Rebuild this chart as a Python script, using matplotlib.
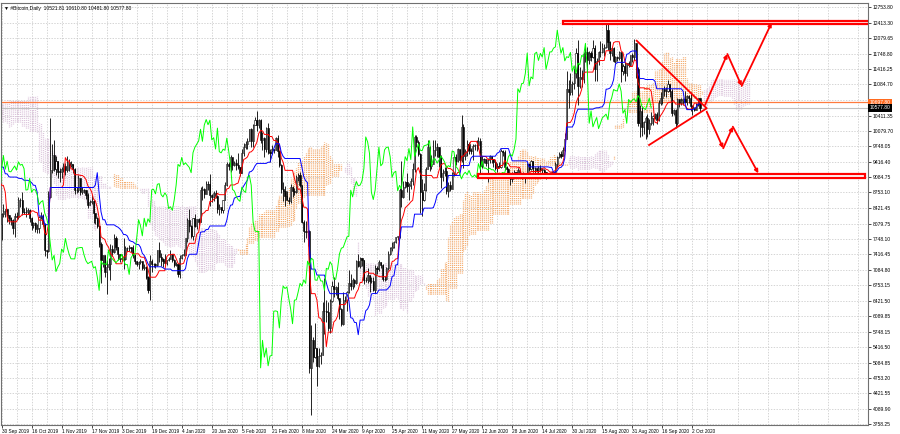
import matplotlib

matplotlib.use("Agg")

import matplotlib.pyplot as plt
import numpy as np
import pandas as pd
from matplotlib.collections import LineCollection
from matplotlib.patches import Rectangle

# daily bars (close, high, low); open = previous close (24/7 market)
# warm-up bars feed the Ichimoku lines at the left edge of the chart
jul19 = [(11810, 11900, 11100), (11392, 11850, 10880), (10256, 11450, 10190), (10895, 11050, 9980),
         (9477, 11000, 9400), (9693, 9950, 9100), (10666, 10740, 9410), (10530, 10750, 10150),
         (10767, 11080, 10380), (10599, 10800, 10200), (10343, 10660, 10080), (9900, 10350, 9800),
         (9811, 9930, 9560), (9911, 10160, 9750), (9871, 9920, 9690), (9477, 10170, 9380),
         (9553, 9590, 9200), (9519, 9700, 9440), (9607, 9720, 9420), (10085, 10110, 9600)]
aug19 = [(10400, 10460, 9920), (10519, 10650, 10340), (10821, 10910, 10500), (10970, 11060, 10560),
         (11805, 11900, 10960), (11478, 12280, 11230), (11941, 12000, 11430), (11966, 11970, 11500),
         (11862, 12050, 11710), (11354, 11930, 11250), (11523, 11560, 11230), (11382, 11560, 11350),
         (10895, 11430, 10770), (10051, 10900, 10000), (10312, 10440, 9840), (10359, 10520, 9880),
         (10231, 10460, 10020), (10345, 10480, 10060), (10916, 10940, 10280), (10764, 10960, 10680),
         (10138, 10780, 9900), (10131, 10230, 9790), (10407, 10440, 10060), (10160, 10420, 9960),
         (10139, 10300, 9950), (10370, 10600, 10120), (10185, 10380, 10080), (9755, 10240, 9630),
         (9510, 9760, 9380), (9598, 9670, 9370), (9630, 9680, 9470)]
sep19 = [(9757, 9800, 9570), (10347, 10420, 9750), (10623, 10770, 10290), (10594, 10630, 10420),
         (10575, 10630, 10480), (10353, 10870, 10280), (10517, 10580, 10350), (10441, 10580, 10320),
         (10334, 10450, 10120), (10115, 10350, 9980), (10178, 10260, 9910), (10410, 10440, 10080),
         (10360, 10440, 10160), (10358, 10390, 10270), (10347, 10380, 10280), (10276, 10370, 10110),
         (10241, 10290, 10170), (10198, 10300, 10160), (10266, 10300, 9670), (10181, 10270, 10100),
         (10019, 10200, 9990), (10070, 10090, 9920), (9729, 10080, 9640), (8620, 9790, 8230),
         (8487, 8730, 8240), (8079, 8500, 7850), (8224, 8290, 7790), (8243, 8330, 8070),
         (8079, 8240, 7910), (8294, 8320, 7730)]
oct19 = [(8343, 8510, 8220), (8393, 8400, 8220), (8260, 8390, 8110), (8205, 8270, 8080),
         (8151, 8220, 8050), (7988, 8180, 7850), (8245, 8310, 7800), (8228, 8330, 8160),
         (8595, 8660, 8170), (8587, 8640, 8450), (8321, 8760, 8260), (8336, 8420, 8280),
         (8321, 8430, 8220), (8374, 8420, 8280), (8205, 8390, 8120), (8047, 8220, 7950),
         (8103, 8120, 7990), (7973, 8120, 7890), (7988, 8080, 7880), (8222, 8250, 7880),
         (8243, 8330, 8180), (8078, 8290, 8040), (7514, 8090, 7380), (7493, 7510, 7350),
         (8660, 8790, 7460), (9244, 10370, 8640), (9551, 9800, 9170), (9256, 9880, 9220),
         (9427, 9530, 9120), (9205, 9430, 9070), (9199, 9280, 8980)]
nov19 = [(9261, 9300, 9070), (9324, 9380, 9200), (9235, 9380, 9140), (9413, 9540, 9200),
         (9342, 9480, 9220), (9360, 9440, 9300), (9267, 9370, 9180), (8805, 9270, 8730),
         (8813, 8880, 8750), (9055, 9120, 8760), (8757, 9060, 8700), (8816, 8870, 8720),
         (8808, 8830, 8740), (8708, 8800, 8620), (8491, 8740, 8420), (8550, 8580, 8480),
         (8577, 8690, 8500), (8310, 8580, 8100), (8206, 8310, 8080), (8027, 8220, 7990),
         (7643, 8060, 7580), (7297, 7690, 6790), (7397, 7400, 7150), (7048, 7400, 6940),
         (7146, 7290, 6570), (7219, 7330, 7080), (7531, 7640, 6870), (7463, 7610, 7380),
         (7761, 7860, 7440), (7569, 7820, 7520)]
dec19 = [(7424, 7570, 7300), (7322, 7430, 7260), (7321, 7420, 7270), (7320, 7760, 7100),
         (7547, 7600, 7300), (7556, 7570, 7490), (7565, 7620, 7500), (7564, 7580, 7470),
         (7400, 7620, 7330), (7278, 7420, 7200), (7217, 7280, 7170), (7243, 7270, 7110),
         (7269, 7310, 7220), (7124, 7280, 7090), (7152, 7200, 7090), (6932, 7170, 6880),
         (6640, 6950, 6580), (7276, 7410, 6440), (7202, 7320, 7040), (7219, 7240, 7140),
         (7191, 7230, 7130), (7511, 7520, 7170), (7355, 7690, 7260), (7322, 7440, 7170),
         (7275, 7350, 7150), (7238, 7430, 7200), (7290, 7300, 7180), (7317, 7370, 7270),
         (7422, 7510, 7310), (7293, 7430, 7250), (7194, 7320, 7150)]
jan20 = [(7200, 7250, 7170), (6985, 7210, 6940), (7345, 7410, 6910), (7410, 7430, 7310),
         (7411, 7540, 7390), (7769, 7780, 7400), (8164, 8210, 7690), (8038, 8400, 7900),
         (7817, 8050, 7770), (8197, 8200, 7730), (8020, 8290, 8000), (8184, 8190, 7970),
         (8110, 8200, 8060), (8811, 8880, 8110), (8822, 8900, 8580), (8723, 8840, 8630),
         (8929, 9000, 8720), (8943, 9000, 8810), (8707, 9150, 8470), (8657, 8730, 8540),
         (8745, 8780, 8560), (8681, 8800, 8630), (8407, 8690, 8320), (8445, 8510, 8260),
         (8368, 8450, 8310), (8597, 8600, 8310), (8910, 8980, 8590), (9358, 9400, 8890),
         (9316, 9420, 9230), (9508, 9570, 9200), (9350, 9520, 9230)]
feb20 = [(9392, 9440, 9330), (9344, 9470, 9240), (9293, 9600, 9260), (9180, 9300, 9110),
         (9613, 9680, 9170), (9729, 9820, 9550), (9795, 9860, 9700), (9865, 9930, 9680),
         (10116, 10130, 9860), (9856, 10150, 9740), (10208, 10230, 9740), (10326, 10390, 10200),
         (10214, 10500, 10080), (10312, 10330, 10150), (9889, 10330, 9830), (9934, 10050, 9660),
         (9690, 9940, 9510), (10141, 10160, 9630), (9633, 10250, 9580), (9608, 9680, 9420),
         (9686, 9770, 9580), (9663, 9700, 9600), (9924, 9950, 9660), (9650, 9990, 9520),
         (9341, 9660, 9300), (8820, 9370, 8740), (8784, 8970, 8560), (8672, 8890, 8470),
         (8599, 8790, 8580)]
mar20 = [(8562, 8650, 8500), (8869, 8930, 8530), (8787, 8900, 8660), (8755, 8840, 8690),
         (9078, 9140, 8750), (9122, 9170, 9010), (8909, 9190, 8880), (8108, 8910, 8090),
         (7923, 8150, 7680), (7909, 8130, 7770), (7911, 7950, 7600), (4970, 7940, 4860),
         (5563, 5900, 3950), (5200, 5640, 5090), (5392, 5940, 5190), (5014, 5370, 4580),
         (5225, 5400, 4980), (5238, 5310, 5060), (6191, 6380, 5250), (6198, 6900, 5700),
         (6185, 6430, 5950), (5830, 6380, 5760), (6416, 6460, 5730), (6734, 6840, 6380),
         (6681, 6940, 6490), (6716, 6740, 6540), (6469, 6830, 6430), (6242, 6280, 6020),
         (5922, 6260, 5880), (6430, 6600, 5900), (6438, 6520, 6380)]
apr20 = [(6606, 6630, 6200), (6793, 7070, 6590), (6733, 7000, 6650), (6868, 6910, 6680),
         (6791, 6890, 6720), (7271, 7300, 6780), (7176, 7420, 7140), (7334, 7360, 7120),
         (7302, 7340, 7170), (6865, 7300, 6780), (6859, 6930, 6820), (6971, 7120, 6810),
         (6845, 6920, 6600), (6842, 6940, 6800), (6642, 6920, 6630), (7116, 7190, 6580),
         (7096, 7160, 7000), (7257, 7290, 7060), (7189, 7250, 7120), (6881, 7220, 6840),
         (6880, 6950, 6840), (7117, 7140, 6860), (7429, 7500, 7080), (7550, 7580, 7400),
         (7569, 7680, 7480), (7679, 7710, 7560), (7795, 7800, 7660), (7807, 7810, 7730),
         (8801, 8860, 7770), (8658, 9440, 8440)]
may20 = [(8864, 9000, 8630), (8988, 9010, 8860), (8897, 9180, 8760), (8912, 8960, 8590),
         (9003, 9070, 8820), (9268, 9380, 8920), (9951, 9990, 9200), (9842, 9990, 9730),
         (9593, 9880, 9530), (8756, 9600, 8320), (8601, 9050, 8250), (8804, 8950, 8560),
         (9269, 9310, 8790), (9733, 9880, 9260), (9328, 9760, 9220), (9377, 9560, 9260),
         (9670, 9880, 9380), (9727, 9890, 9540), (9729, 9830, 9510), (9523, 9740, 9310),
         (9081, 9560, 8860), (9182, 9260, 9000), (9210, 9300, 9100), (8790, 9300, 8720),
         (8906, 8980, 8650), (8835, 9010, 8780), (9181, 9200, 8820), (9525, 9560, 9110),
         (9439, 9590, 9340), (9700, 9720, 9400), (9461, 9700, 9400)]
jun20 = [(10167, 10420, 9420), (9529, 10220, 9290), (9656, 9680, 9450), (9800, 9880, 9530),
         (9665, 9850, 9590), (9653, 9710, 9590), (9759, 9790, 9460), (9771, 9800, 9670),
         (9785, 9880, 9640), (9870, 9950, 9700), (9321, 9930, 9110), (9480, 9540, 9270),
         (9475, 9490, 9390), (9386, 9480, 9330), (9450, 9500, 8980), (9538, 9560, 9380),
         (9480, 9530, 9380), (9411, 9480, 9310), (9288, 9460, 9240), (9332, 9390, 9200),
         (9303, 9400, 9270), (9648, 9690, 9290), (9629, 9670, 9540), (9313, 9670, 9240),
         (9264, 9320, 9090), (9162, 9290, 9060), (9046, 9180, 8920), (9143, 9190, 8980),
         (9190, 9230, 9080), (9137, 9200, 9100)]
jul20 = [(9228, 9290, 9090), (9123, 9260, 9060), (9087, 9130, 9050), (9132, 9190, 9070),
         (9073, 9130, 8950), (9375, 9380, 9070), (9252, 9380, 9210), (9428, 9460, 9240),
         (9277, 9430, 9190), (9278, 9300, 9110), (9240, 9290, 9190), (9277, 9330, 9180),
         (9243, 9340, 9200), (9243, 9280, 9130), (9192, 9260, 9160), (9132, 9200, 9050),
         (9151, 9170, 9090), (9159, 9190, 9130), (9185, 9220, 9110), (9164, 9200, 9140),
         (9374, 9420, 9150), (9525, 9530, 9290), (9581, 9620, 9490), (9536, 9640, 9500),
         (9677, 9730, 9540), (9905, 10030, 9650), (10990, 11380, 9900), (10912, 11180, 10570),
         (11100, 11320, 10860), (11111, 11160, 10850), (11323, 11430, 10980)]
aug20 = [(11759, 11860, 11230), (11053, 12050, 10650), (11246, 11470, 11000), (11205, 11400, 11020),
         (11747, 11790, 11110), (11779, 11900, 11570), (11601, 11900, 11290), (11754, 11800, 11520),
         (11675, 11800, 11580), (11878, 12050, 11650), (11410, 11940, 11160), (11584, 11660, 11150),
         (11784, 11800, 11500), (11786, 12020, 11670), (11866, 11970, 11760), (11893, 11950, 11690),
         (12254, 12470, 11860), (11991, 12400, 11820), (11758, 12020, 11600), (11878, 11890, 11690),
         (11592, 11900, 11570), (11681, 11690, 11540), (11664, 11690, 11590), (11774, 11800, 11600),
         (11366, 11770, 11140), (11488, 11530, 11290), (11323, 11570, 11160), (11542, 11540, 11270),
         (11507, 11590, 11460), (11711, 11720, 11480), (11680, 11770, 11570)]
sep20 = [(11970, 12070, 11600), (11414, 11970, 11230), (10246, 11450, 10190), (10512, 10630, 9950),
         (10169, 10590, 9970), (10280, 10290, 10020), (10370, 10400, 9910), (10131, 10440, 9940),
         (10243, 10340, 10020), (10363, 10490, 10200), (10400, 10420, 10210), (10443, 10470, 10330),
         (10323, 10490, 10230), (10680, 10740, 10300), (10796, 10910, 10640), (10975, 11000, 10670),
         (10949, 11060, 10830), (10944, 11030, 10820), (11094, 11170, 10910), (10938, 11100, 10810),
         (10463, 10990, 10400), (10538, 10560, 10420), (10246, 10550, 10150), (10760, 10780, 10210),
         (10692, 10760, 10600), (10750, 10780, 10650), (10775, 10800, 10650), (10709, 10940, 10680),
         (10844, 10860, 10640), (10785, 10850, 10680)]
oct20 = [(10620, 10920, 10500), (10570, 10640, 10420), (10542, 10590, 10510), (10667, 10690, 10530),
         (10786, 10800, 10620), (10577.8, 10800, 10481.8)]

FIRST_DATE = "2019-07-12"
CHART_START = "2019-09-30"

title_text = "#Bitcoin,Daily  10521.81 10610.80 10481.80 10577.80"
price_ticks = [12753.80, 12413.30, 12079.65, 11748.80, 11416.25, 11084.70, 10753.15, 10411.35,
               10079.70, 9748.05, 9416.40, 9084.75, 8753.10, 8421.45, 8079.75, 7748.10, 7416.45,
               7084.80, 6753.15, 6421.50, 6089.85, 5748.15, 5416.50, 5084.85, 4753.20, 4421.55,
               4089.90, 3758.25]
hidden_tick = 10753.15  # covered by the price tags in the terminal
orange_level = 10697.80
bid_level = 10577.80

# analyst drawings: (bar offset from chart start, price)
triangle_pts = [(338.3, 12027), (375.6, 10568), (344.9, 9777)]
up_path = [(374.7, 10640), (386.6, 11740), (394.2, 11050), (410.2, 12415)]
down_path = [(375.6, 10495), (384.4, 9706), (389.5, 10172), (403.1, 9166)]
top_box = (299.1, 462.0, 12380, 12462)
bottom_box = (253.8, 459.9, 9062, 9158)

bars = jul19 + aug19 + sep19 + oct19 + nov19 + dec19 + jan20 + feb20 + mar20 + apr20 + \
    may20 + jun20 + jul20 + aug20 + sep20 + oct20
close = np.array([b[0] for b in bars], dtype=float)
high = np.array([b[1] for b in bars], dtype=float)
low = np.array([b[2] for b in bars], dtype=float)
opn = np.r_[close[0], close[:-1]]
high = np.maximum(high, np.maximum(opn, close))
low = np.minimum(low, np.minimum(opn, close))
dates = pd.date_range(FIRST_DATE, periods=len(close), freq="D")
x = (dates - pd.Timestamp(CHART_START)).days.values.astype(float)

hi, lo = pd.Series(high), pd.Series(low)
tenkan = ((hi.rolling(9).max() + lo.rolling(9).min()) / 2).values
kijun = ((hi.rolling(26).max() + lo.rolling(26).min()) / 2).values
span_a = (tenkan + kijun) / 2
span_b = ((hi.rolling(52).max() + lo.rolling(52).min()) / 2).values

fig = plt.figure(figsize=(9.0, 4.34), dpi=100)
fig.patch.set_facecolor("white")
ax = fig.add_axes([1 / 900, 9 / 434, 867 / 900, 422 / 434])
ax.set_xlim(-0.27, 461.5)
ax.set_ylim(3736.7, 12840.1)

FS = 3.6
FONT = "Liberation Sans"

# grid
ax.set_yticks(price_ticks)
ax.set_yticklabels(["" if v == hidden_tick else f"{v:.2f}" for v in price_ticks],
                   fontsize=FS, family=FONT)
ax.yaxis.tick_right()
ax.tick_params(axis="y", length=2, width=0.5, pad=1.5, colors="black")
tick_days = np.arange(0, 369, 16)
tick_dates = pd.Timestamp(CHART_START) + pd.to_timedelta(tick_days, unit="D")
ax.set_xticks(tick_days)
ax.set_xticklabels([f"{d.day} {d.strftime('%b %Y')}" for d in tick_dates], fontsize=3.4,
                   family=FONT, ha="left")
ax.set_xticks(np.arange(8, 460, 16), minor=True)
ax.tick_params(axis="x", length=2, width=0.5, pad=1.0)
ax.tick_params(axis="x", which="minor", length=0)
ax.grid(True, which="both", color="#c4c4c4", linestyle=(0, (2, 2)), linewidth=0.5)
ax.set_axisbelow(True)
for s in ax.spines.values():
    s.set_color("#707070")
    s.set_linewidth(0.8)

# ichimoku cloud drawn as dotted columns
cx = x + 26
ok = ~np.isnan(span_a) & ~np.isnan(span_b)
segs, cols = [], []
for xi, a, b in zip(cx[ok], span_a[ok], span_b[ok]):
    segs.append([(xi, min(a, b)), (xi, max(a, b))])
    cols.append("#f4a460" if a >= b else "#d8bfd8")
ax.add_collection(LineCollection(segs, colors=cols, linewidths=0.9,
                                 linestyles=[(0, (0.7, 0.8))], zorder=1))

# horizontal levels
ax.axhline(bid_level, color="#c0c0c0", lw=0.8, zorder=1.5)
ax.axhline(orange_level, color="#ff7a3d", lw=0.9, zorder=1.5)

# candles (only chart range)
vis = x >= 0
ax.vlines(x[vis], low[vis], high[vis], color="black", lw=0.6, zorder=3)
body_lo = np.minimum(opn, close)[vis]
body_h = np.maximum(np.abs(close - opn)[vis], 8)
up = (close >= opn)[vis]
ax.bar(x[vis][up], body_h[up], bottom=body_lo[up], width=0.6, color="white",
       edgecolor="black", linewidth=0.4, zorder=3.2)
ax.bar(x[vis][~up], body_h[~up], bottom=body_lo[~up], width=0.6, color="black",
       edgecolor="black", linewidth=0.4, zorder=3.2)

# ichimoku lines
ax.plot(x, tenkan, color="red", lw=0.7, zorder=4)
ax.plot(x, kijun, color="blue", lw=0.7, zorder=4)
ax.plot(x - 26, close, color="#00ff00", lw=0.7, zorder=4)

# analyst drawings
for (x0, x1, y0, y1) in (top_box, bottom_box):
    ax.add_patch(Rectangle((x0, y0), x1 - x0, y1 - y0, facecolor="white", edgecolor="red",
                           lw=1.6, zorder=5))
tx, ty = zip(*triangle_pts)
ax.plot(tx, ty, color="red", lw=1.3, zorder=6)
for path in (up_path, down_path):
    for p0, p1 in zip(path[:-1], path[1:]):
        ax.annotate("", xy=p1, xytext=p0, zorder=6,
                    arrowprops=dict(arrowstyle="-|>", color="red", lw=1.3,
                                    mutation_scale=5, shrinkA=0, shrinkB=0))

# title and price tags
ax.text(0.004, 0.993, "\u25bc " + title_text, transform=ax.transAxes, fontsize=FS,
        family=[FONT, "DejaVu Sans"], va="top", ha="left", zorder=7)
for lvl, fc in ((orange_level, "#ff6a1f"), (bid_level, "black")):
    ax.text(1.002, lvl, f"{lvl:.2f}", transform=ax.get_yaxis_transform(), fontsize=FS,
            family=FONT, color="white", va="center", ha="left", zorder=8, clip_on=False,
            bbox=dict(boxstyle="square,pad=0.25", fc=fc, ec=fc, lw=0))

fig.savefig("out.png", dpi=100, facecolor="white")
